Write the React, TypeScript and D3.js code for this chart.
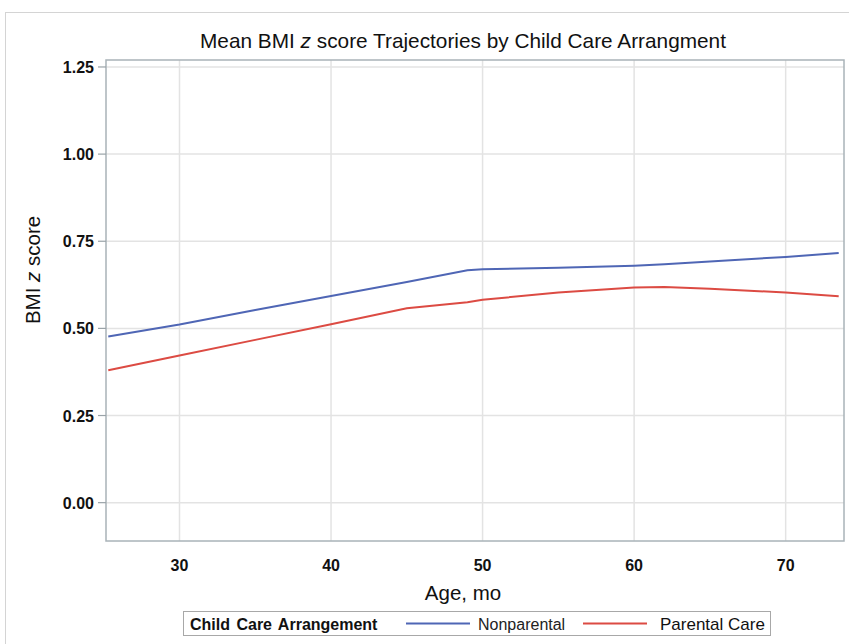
import * as React from 'react';
import * as d3 from 'd3';

const ages = [25.3, 30, 35, 40, 45, 49, 50, 55, 60, 62, 65, 70, 73.5];
const nonparental = [0.477, 0.511, 0.553, 0.593, 0.633, 0.667, 0.670, 0.674, 0.680, 0.684, 0.692, 0.705, 0.716];
const parental = [0.380, 0.422, 0.467, 0.512, 0.558, 0.575, 0.582, 0.603, 0.617, 0.619, 0.614, 0.603, 0.592];
const xTicks = [30, 40, 50, 60, 70];
const yTicks = [0, 0.25, 0.5, 0.75, 1.0, 1.25];

const W = 849;
const H = 644;
const plot = { left: 106, right: 844, top: 60, bottom: 541 };

const xScale = d3.scaleLinear().domain([25.15, 73.85]).range([plot.left, plot.right]);
const yScale = d3.scaleLinear().domain([-0.11, 1.27]).range([plot.bottom, plot.top]);

const BLUE = '#4f66b5';
const RED = '#dc4b43';
const FONT = '"Liberation Sans", Arial, sans-serif';

const line = d3.line<number>()
    .x((_, i) => xScale(ages[i]))
    .y(d => yScale(d));

export default function App() {
    return (
        <svg width={W} height={H} style={{ position: 'absolute', left: 0, top: 0, background: '#fff' }}
            fontFamily={FONT}>
            <rect x={5.5} y={12.5} width={W + 10} height={H + 10} fill="none" stroke="#d4d4d4" />
            <text x={463} y={48} textAnchor="middle" fontSize={20.8} fill="#111">
                Mean BMI <tspan fontStyle="italic">z</tspan> score Trajectories by Child Care Arrangment
            </text>

            {/* grid */}
            {xTicks.map(t => (
                <line key={'gx' + t} x1={xScale(t)} x2={xScale(t)} y1={plot.top} y2={plot.bottom}
                    stroke="#e3e3e3" strokeWidth={1.5} />
            ))}
            {yTicks.map(t => (
                <line key={'gy' + t} x1={plot.left} x2={plot.right} y1={yScale(t)} y2={yScale(t)}
                    stroke="#e3e3e3" strokeWidth={1.5} />
            ))}

            <rect x={plot.left} y={plot.top} width={plot.right - plot.left} height={plot.bottom - plot.top}
                fill="none" stroke="#a9b3b8" strokeWidth={1.5} />

            {/* y axis */}
            {yTicks.map(t => (
                <g key={'y' + t}>
                    <line x1={plot.left - 8} x2={plot.left} y1={yScale(t)} y2={yScale(t)} stroke="#9aa3a8" strokeWidth={1.2} />
                    <text x={plot.left - 12} y={yScale(t) + 6} textAnchor="end" fontSize={16} fontWeight="bold" fill="#111">
                        {d3.format('.2f')(t)}
                    </text>
                </g>
            ))}
            <text transform={`translate(40, 270) rotate(-90)`} textAnchor="middle"
                fontSize={20.5} fill="#111">
                BMI <tspan fontStyle="italic">z</tspan> score
            </text>

            {/* x axis */}
            {xTicks.map(t => (
                <text key={'x' + t} x={xScale(t)} y={571} textAnchor="middle" fontSize={16} fontWeight="bold" fill="#111">
                    {t}
                </text>
            ))}
            <text x={463} y={600} textAnchor="middle" fontSize={20.5} fill="#111">Age, mo</text>

            {/* lines */}
            <path d={line(nonparental) || ''} fill="none" stroke={BLUE} strokeWidth={2} />
            <path d={line(parental) || ''} fill="none" stroke={RED} strokeWidth={2} />

            {/* legend */}
            <rect x={183.5} y={611.5} width={587} height={24} fill="#fff" stroke="#a8a8a8" />
            <text x={190} y={629.5} fontSize={16} fontWeight="bold" fill="#111" wordSpacing={2}>Child Care Arrangement</text>
            <line x1={406} x2={470} y1={623.5} y2={623.5} stroke={BLUE} strokeWidth={2} />
            <text x={478} y={629.5} fontSize={16} fill="#222">Nonparental</text>
            <line x1={583} x2={647} y1={623.5} y2={623.5} stroke={RED} strokeWidth={2} />
            <text x={660} y={629.5} fontSize={17} fill="#111">Parental Care</text>
        </svg>
    );
}
